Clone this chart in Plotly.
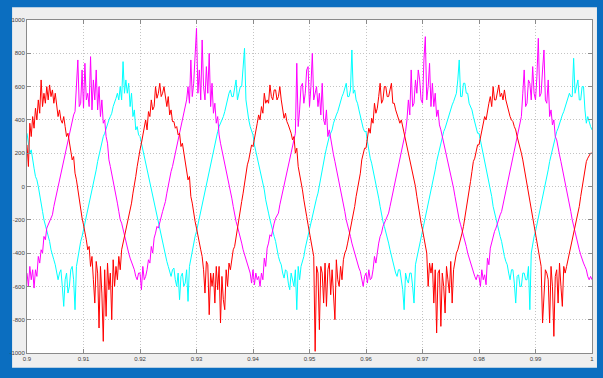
import numpy as np
import plotly.graph_objects as go

# sample times: 0.9 .. 1.0 s, step 0.00025 s
t = np.round(np.linspace(0.9, 1.0, 401), 6)

red = [
    # 0.90 - 0.92
    250, 120, 380, 300, 420, 350, 470, 400,
    520, 440, 640, 480, 560, 500, 600, 520,
    610, 540, 580, 500, 560, 480, 420, 460,
    400, 380, 420, 360, 300, 320, 260, 220,
    160, 180, 80, 40, -20, -80, -150, -190,
    -230, -270, -320, -380, -360, -480, -420, -560,
    -700, -450, -520, -850, -480, -640, -930, -500,
    -780, -460, -620, -520, -800, -440, -600, -480,
    -560, -420, -500, -380, -340, -300, -260, -220,
    -200, -140, -100, -40, 0, 60, 120, 180,
    # 0.92 - 0.94
    220, 260, 300, 360, 400, 340, 450, 420,
    520, 460, 480, 600, 530, 560, 620, 540,
    560, 600, 540, 480, 540, 430, 460, 390,
    390, 350, 360, 310, 320, 240, 260, 200,
    150, 110, 40, 60, -60, -100, -170, -210,
    -250, -300, -330, -380, -420, -500, -640, -450,
    -470, -770, -520, -600, -520, -700, -480, -620,
    -480, -820, -540, -680, -740, -500, -600, -460,
    -500, -420, -380, -360, -300, -260, -200, -150,
    -90, -40, 20, 60, 130, 160, 220, 250,
    # 0.94 - 0.96
    240, 280, 320, 380, 430, 400, 480, 440,
    560, 500, 520, 500, 610, 540, 520, 580,
    580, 520, 540, 600, 520, 460, 410, 440,
    390, 370, 350, 320, 280, 300, 200, 230,
    120, 80, 20, -20, -80, -120, -180, -230,
    -280, -320, -380, -420, -990, -480, -520, -860,
    -480, -520, -700, -460, -720, -500, -460, -650,
    -500, -620, -800, -440, -560, -600, -480, -560,
    -440, -400, -380, -340, -300, -260, -220, -180,
    -120, -60, -20, 40, 80, 160, 190, 230,
    # 0.96 - 0.98
    230, 300, 350, 320, 410, 380, 500, 440,
    470, 540, 620, 500, 520, 600, 600, 540,
    540, 580, 620, 500, 500, 460, 430, 400,
    380, 400, 360, 330, 290, 250, 220, 180,
    140, 90, 40, 0, -60, -120, -180, -220,
    -260, -300, -350, -400, -600, -460, -520, -460,
    -700, -500, -880, -520, -500, -840, -520, -600,
    -760, -480, -560, -640, -450, -700, -500, -440,
    -400, -380, -350, -320, -280, -240, -190, -140,
    -80, -30, 30, 90, 150, 170, 210, 250,
    # 0.98 - 1.00
    250, 290, 330, 380, 420, 400, 460, 500,
    540, 480, 600, 520, 520, 580, 610, 540,
    560, 520, 580, 520, 480, 440, 420, 400,
    390, 360, 340, 300, 270, 240, 200, 160,
    110, 60, 10, -40, -100, -150, -200, -250,
    -300, -340, -380, -430, -480, -820, -640, -500,
    -520, -560, -820, -480, -600, -900, -540, -500,
    -700, -460, -600, -720, -480, -520, -480, -440,
    -400, -360, -330, -300, -260, -220, -180, -120,
    -60, -10, 50, 100, 150, 170, 190, 200,
    200,
]

magenta = [
    # 0.90 - 0.92
    -520, -600, -480, -560, -500, -610, -500, -540,
    -420, -460, -380, -400, -300, -320, -250, -230,
    -200, -180, -170, -120, -80, -40, 0, 40,
    80, 110, 150, 190, 230, 280, 330, 360,
    400, 430, 450, 600, 760, 480, 500, 700,
    470, 740, 520, 560, 480, 780, 460, 640,
    520, 700, 460, 600, 420, 520, 380, 400,
    300, 260, 160, 120, 80, 40, 0, -50,
    -100, -150, -200, -220, -260, -300, -330, -360,
    -400, -430, -450, -480, -500, -540, -560, -520,
    # 0.92 - 0.94
    -520, -620, -480, -560, -540, -500, -440, -460,
    -360, -400, -310, -280, -240, -250, -210, -170,
    -150, -120, -90, -40, 10, 50, 90, 120,
    160, 200, 240, 290, 340, 370, 410, 440,
    480, 520, 600, 500, 760, 540, 620, 820,
    950, 560, 700, 520, 880, 600, 520, 720,
    560, 800, 480, 620, 440, 500, 380, 420,
    310, 260, 220, 180, 140, 100, 60, 20,
    -20, -70, -120, -170, -210, -240, -270, -300,
    -340, -380, -410, -440, -460, -500, -520, -580,
    # 0.94 - 0.96
    -500, -590, -520, -560, -540, -600, -520, -560,
    -430, -480, -370, -340, -290, -300, -250, -220,
    -190, -170, -160, -110, -70, -30, 0, 40,
    90, 120, 160, 200, 240, 280, 320, 740,
    360, 460, 600, 620, 500, 560, 700, 720,
    480, 600, 800, 520, 560, 600, 480, 560,
    430, 620, 400, 370, 460, 300, 340, 280,
    220, 190, 150, 110, 70, 30, -10, -60,
    -110, -150, -200, -230, -270, -300, -340, -370,
    -400, -440, -470, -490, -510, -560, -600, -540,
    # 0.96 - 0.98
    -520, -580, -500, -560, -550, -500, -420, -460,
    -380, -340, -300, -280, -240, -220, -200, -180,
    -160, -120, -80, -40, 10, 40, 80, 120,
    150, 190, 230, 280, 330, 400, 520, 430,
    700, 480, 500, 640, 560, 700, 640, 520,
    500, 760, 900, 520, 600, 740, 480, 620,
    480, 560, 420, 460, 370, 340, 300, 280,
    230, 190, 150, 110, 70, 30, -10, -60,
    -110, -150, -200, -230, -260, -300, -330, -360,
    -400, -430, -460, -490, -520, -540, -560, -530,
    # 0.98 - 1.00
    -540, -600, -500, -560, -530, -590, -430, -470,
    -370, -330, -300, -270, -250, -220, -200, -170,
    -150, -110, -70, -30, 0, 40, 90, 130,
    170, 200, 240, 290, 340, 380, 420, 560,
    700, 480, 500, 640, 620, 520, 720, 560,
    520, 660, 890, 540, 560, 700, 820, 520,
    500, 640, 420, 460, 370, 400, 300, 280,
    220, 190, 150, 110, 70, 30, -10, -60,
    -110, -150, -200, -240, -280, -310, -340, -380,
    -410, -440, -460, -480, -500, -540, -560, -540,
    -560,
]

cyan = [
    # 0.90 - 0.92
    320, 260, 200, 220, 150, 110, 60, 40,
    0, -60, -120, -150, -200, -230, -260, -300,
    -330, -380, -420, -440, -470, -520, -560, -520,
    -500, -600, -720, -560, -520, -640, -600, -500,
    -480, -560, -740, -480, -420, -380, -330, -300,
    -260, -230, -200, -160, -120, -80, -40, 0,
    40, 100, 150, 190, 220, 260, 300, 320,
    350, 380, 400, 420, 440, 480, 500, 530,
    560, 520, 600, 520, 750, 560, 640, 560,
    620, 480, 560, 420, 460, 340, 360, 310,
    # 0.92 - 0.94
    300, 260, 220, 180, 140, 110, 70, 30,
    -10, -60, -110, -150, -190, -230, -270, -310,
    -340, -380, -410, -450, -480, -520, -540, -500,
    -490, -560, -600, -520, -680, -540, -520, -600,
    -580, -500, -690, -480, -430, -380, -340, -300,
    -270, -230, -190, -150, -110, -70, -30, 10,
    50, 90, 140, 180, 230, 260, 290, 330,
    360, 380, 390, 420, 450, 490, 520, 560,
    580, 540, 540, 600, 640, 520, 560, 600,
    600, 700, 830, 520, 450, 400, 360, 330,
    # 0.94 - 0.96
    310, 250, 210, 180, 150, 100, 50, 20,
    -20, -80, -130, -160, -200, -240, -280, -300,
    -330, -380, -420, -450, -470, -520, -550, -500,
    -510, -580, -620, -520, -560, -600, -500, -740,
    -480, -560, -480, -450, -420, -370, -330, -290,
    -260, -220, -190, -150, -110, -70, -40, 10,
    50, 100, 150, 190, 230, 270, 300, 320,
    340, 380, 410, 430, 450, 480, 520, 540,
    560, 600, 620, 540, 540, 580, 820, 560,
    580, 520, 500, 460, 420, 380, 350, 330,
    # 0.96 - 0.98
    330, 270, 210, 170, 140, 100, 60, 20,
    -10, -70, -120, -170, -210, -240, -270, -310,
    -340, -380, -420, -450, -480, -520, -540, -500,
    -500, -560, -620, -740, -520, -560, -580, -520,
    -520, -600, -700, -470, -430, -390, -340, -300,
    -260, -230, -200, -150, -110, -70, -30, 10,
    50, 100, 150, 190, 230, 270, 300, 330,
    350, 380, 410, 440, 460, 490, 510, 540,
    560, 640, 760, 540, 540, 620, 620, 560,
    560, 500, 480, 460, 420, 380, 340, 320,
    # 0.98 - 1.00
    320, 280, 220, 190, 150, 110, 60, 30,
    -10, -60, -120, -160, -200, -240, -270, -300,
    -330, -380, -420, -450, -470, -520, -560, -500,
    -500, -580, -700, -540, -530, -600, -600, -520,
    -520, -560, -560, -480, -740, -400, -340, -300,
    -270, -230, -200, -150, -110, -70, -30, 10,
    40, 100, 150, 190, 220, 260, 300, 330,
    350, 380, 400, 430, 450, 480, 510, 540,
    560, 540, 540, 770, 560, 600, 640, 520,
    520, 600, 600, 460, 380, 420, 380, 360,
    340,
]

assert len(red) == len(t) and len(magenta) == len(t) and len(cyan) == len(t)

x_tickvals = [0.9, 0.91, 0.92, 0.93, 0.94, 0.95, 0.96, 0.97, 0.98, 0.99, 1.0]
x_ticktext = ["0.9", "0.91", "0.92", "0.93", "0.94", "0.95", "0.96", "0.97", "0.98", "0.99", "1"]
y_tickvals = [-1000, -800, -600, -400, -200, 0, 200, 400, 600, 800, 1000]
y_ticktext = ["-1000", "-800", "-600", "-400", "-200", "0", "200", "400", "600", "800", "1000"]

fig = go.Figure()
for vals, color in [(cyan, "#00FFFF"), (magenta, "#FF00FF"), (red, "#FF0000")]:
    fig.add_trace(go.Scatter(x=t, y=vals, mode="lines",
                             line=dict(color=color, width=1), hoverinfo="skip"))

axis_common = dict(
    showgrid=True, gridcolor="#c4c4c4", griddash="1px,2px", gridwidth=1,
    showline=True, linecolor="#8a8a8a", linewidth=1, mirror="allticks",
    ticks="inside", ticklen=4, tickcolor="#8a8a8a",
    tickfont=dict(size=6, color="#404040", family="Liberation Sans"),
    zeroline=False,
)

fig.update_layout(
    width=603, height=378,
    margin=dict(l=25, r=9, t=20, b=25),
    paper_bgcolor="#0B6EC0",
    plot_bgcolor="white",
    showlegend=False,
    xaxis=dict(range=[0.9, 1.0], tickvals=x_tickvals, ticktext=x_ticktext, **axis_common),
    yaxis=dict(range=[-1000, 1000], tickvals=y_tickvals, ticktext=y_ticktext, **axis_common),
    shapes=[
        dict(type="rect", xref="paper", yref="paper", x0=-0.0264, x1=1.0088, y0=-0.0442, y1=1.0382,
             fillcolor="#EFEFEF", line=dict(width=0), layer="below"),
        dict(type="rect", xref="paper", yref="paper", x0=0, x1=1, y0=0, y1=1,
             fillcolor="white", line=dict(width=0), layer="below"),
    ],
)

fig.write_html(
    "out.html",
    config={"displayModeBar": False},
    post_script="document.body.style.margin='0';document.body.style.overflow='hidden';",
)
